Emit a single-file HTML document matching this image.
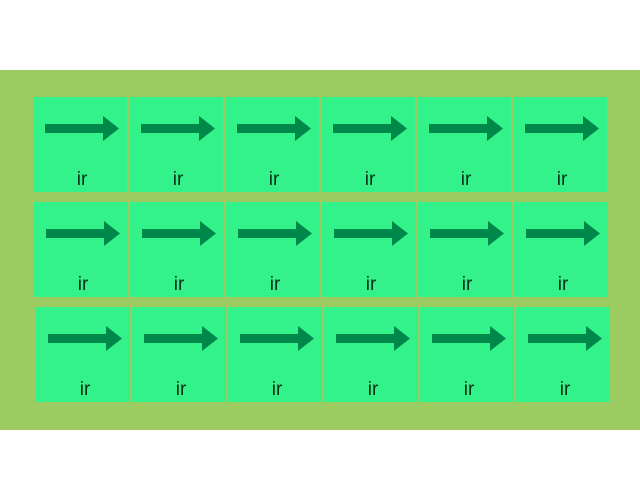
<!DOCTYPE html>
<html><head><style>
html,body{margin:0;padding:0;background:#fff;width:640px;height:500px;overflow:hidden}
.band{position:absolute;left:0;top:70px;width:640px;height:360px;background:#9ccb62}
.c{position:absolute;width:94px;height:95px;background:#33f28a}
.c svg{position:absolute;left:11px;top:18px}
.c span{position:absolute;left:2px;width:94px;top:72px;text-align:center;font:19px "Liberation Sans",sans-serif;color:#0d2e1a}
</style></head><body>
<div class="band"></div>
<div id="g"></div>
<script>
var rows=[[33,97],[34,202],[36,307]],h='';
rows.forEach(function(r){for(var i=0;i<6;i++){h+='<div class="c" style="left:'+(r[0]+i*96)+'px;top:'+r[1]+'px"><svg width="78" height="28"><rect x="1" y="9" width="60" height="9" fill="#00874a"/><polygon points="59,1 75,13.5 59,26" fill="#00874a"/></svg><span>ir</span></div>';}});
document.getElementById('g').innerHTML=h;
</script>
</body></html>
